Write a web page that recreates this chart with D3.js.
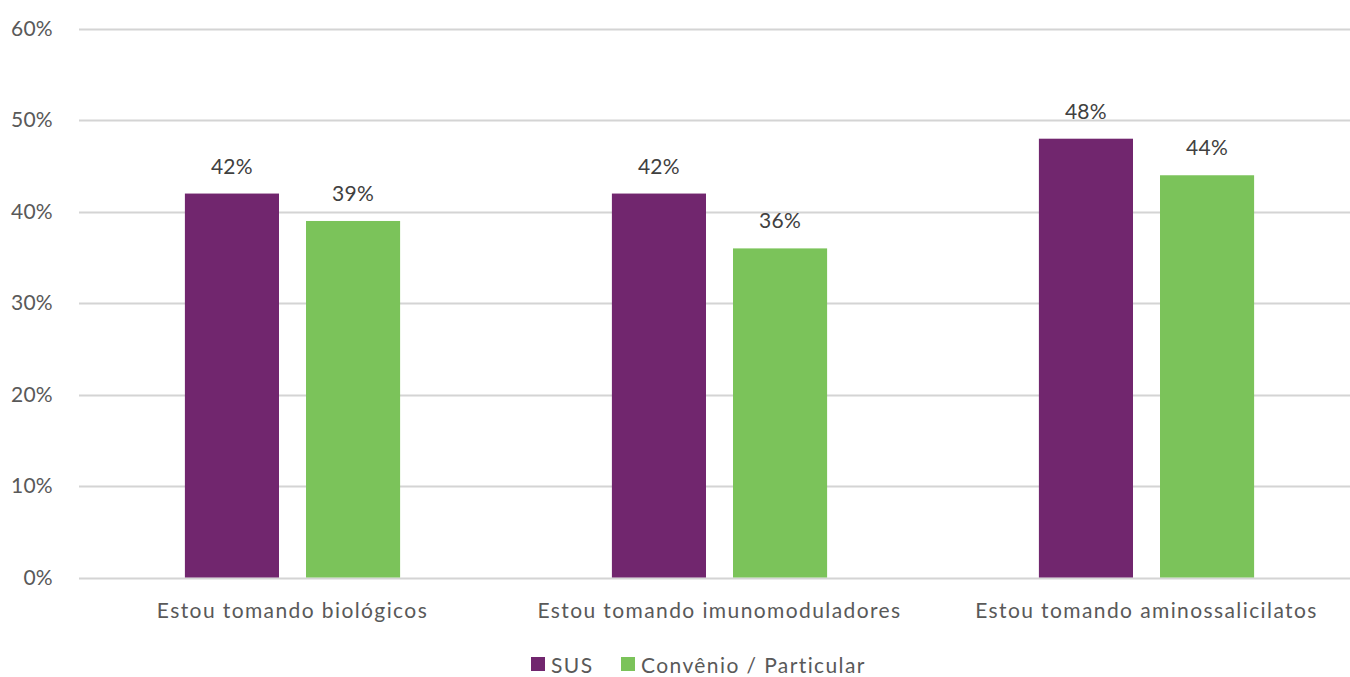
<!DOCTYPE html>
<html>
<head>
<meta charset="utf-8">
<script src="https://cdn.jsdelivr.net/npm/d3@7"></script>
<style>
  html, body { margin: 0; padding: 0; background: #fff; }
  svg { display: block; font-family: Lato, "Open Sans", sans-serif; }
</style>
</head>
<body>
<svg id="chart" width="1350" height="677"></svg>
<script>
// Categories, series and their values (percent)
const categories = [
  "Estou tomando biológicos",
  "Estou tomando imunomoduladores",
  "Estou tomando aminossalicilatos"
];
const seriesNames = ["SUS", "Convênio / Particular"];
const susValues = [42, 42, 48];
const convenioValues = [39, 36, 44];
const yTicks = [0, 10, 20, 30, 40, 50, 60];

const colors = ["#71266E", "#7BC35A"];
const textColor = "#595959";

const svg = d3.select("#chart");

const x = d3.scaleBand().domain(categories).range([79, 1360]).paddingInner(0).paddingOuter(0);
const y = d3.scaleLinear().domain([0, 60]).range([577.5, 29]);

// Bars sit in the middle half of each category band
const inner = d3.scaleBand().domain(seriesNames)
  .range([x.bandwidth() * 0.248, x.bandwidth() * 0.752])
  .paddingInner(0.223).paddingOuter(0);

// Horizontal gridlines
svg.append("g").selectAll("line").data(yTicks).join("line")
  .attr("x1", 79).attr("x2", 1360)
  .attr("y1", d => Math.round(y(d)) + 0.5).attr("y2", d => Math.round(y(d)) + 0.5)
  .attr("stroke", "#d4d4d4").attr("stroke-width", 2);

// Y axis labels
svg.append("g").selectAll("text").data(yTicks).join("text")
  .attr("x", 53).attr("y", d => y(d) + 7)
  .attr("text-anchor", "end")
  .attr("font-size", 21).attr("letter-spacing", 0.3).attr("fill", textColor)
  .text(d => d + "%");

const series = seriesNames.map((name, i) => ({
  name,
  values: (i === 0 ? susValues : convenioValues)
}));

const groups = svg.append("g").selectAll("g").data(series).join("g")
  .attr("fill", (d, i) => colors[i]);

groups.selectAll("rect").data(d => d.values.map((v, j) => ({ name: d.name, v, cat: categories[j] })))
  .join("rect")
  .attr("x", d => x(d.cat) + inner(d.name))
  .attr("width", inner.bandwidth())
  .attr("y", d => y(d.v))
  .attr("height", d => y(0) - y(d.v));

// Value labels
svg.append("g").selectAll("g").data(series).join("g")
  .selectAll("text").data(d => d.values.map((v, j) => ({ name: d.name, v, cat: categories[j] })))
  .join("text")
  .attr("x", d => x(d.cat) + inner(d.name) + inner.bandwidth() / 2)
  .attr("y", d => y(d.v) - 20)
  .attr("text-anchor", "middle")
  .attr("font-size", 21).attr("letter-spacing", 0.3).attr("fill", "#404040")
  .text(d => d.v + "%");

// Category labels
svg.append("g").selectAll("text").data(categories).join("text")
  .attr("x", d => x(d) + x.bandwidth() / 2)
  .attr("y", 618)
  .attr("text-anchor", "middle")
  .attr("font-size", 21).attr("letter-spacing", 1.4).attr("fill", textColor)
  .text(d => d);

// Legend
const legendX = [531, 621];
const legend = svg.append("g").selectAll("g").data(seriesNames).join("g")
  .attr("transform", (d, i) => `translate(${legendX[i]},0)`);
legend.append("rect").attr("x", 0).attr("y", 657).attr("width", 14).attr("height", 14)
  .attr("fill", (d, i) => colors[i]);
legend.append("text").attr("x", 20).attr("y", 673)
  .attr("font-size", 21).attr("letter-spacing", 1.4).attr("fill", textColor)
  .text(d => d);
</script>
</body>
</html>
